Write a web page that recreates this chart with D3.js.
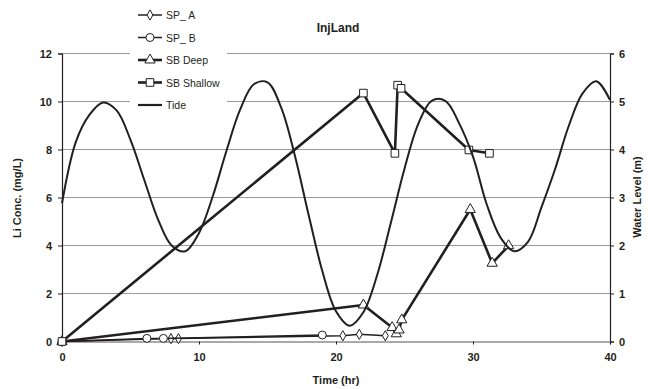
<!DOCTYPE html>
<html>
<head>
<meta charset="utf-8">
<script src="https://cdn.jsdelivr.net/npm/d3@7"></script>
<style>
  body { margin: 0; background: #fff; }
  svg { font-family: "Liberation Sans", Arial, sans-serif; }
</style>
</head>
<body>
<script>
// ---------------- data ----------------
const spATime = [0, 7.95, 8.5, 20.5, 21.7, 23.6]
const spAConc = [0, 0.12, 0.12, 0.24, 0.3, 0.24]

const spBTime = [0, 6.2, 7.4, 19.0]
const spBConc = [0, 0.13, 0.13, 0.27]

const deepTime = [0, 22.0, 24.1, 24.4, 24.6, 24.8, 29.8, 31.4, 32.6]
const deepConc = [0, 1.52, 0.58, 0.32, 0.48, 0.9, 5.5, 3.26, 3.99]

const shallowTime = [0, 22.0, 24.3, 24.5, 24.75, 29.7, 31.2]
const shallowConc = [0, 10.35, 7.84, 10.68, 10.55, 7.98, 7.84]

const tideTime = [0, 1, 2, 3, 4, 5, 6, 7, 8, 9, 10, 11, 12, 13, 14, 15, 16, 17, 18, 19, 20,
    21, 22, 23, 24, 25, 26, 27, 28, 29, 30, 31, 32, 33, 34, 35, 36, 37, 38, 39, 40]
const tideLevel = [2.88, 4.15, 4.72, 4.98, 4.81, 4.2, 3.37, 2.55, 2.0, 1.88, 2.26, 3.02, 3.97, 4.83,
    5.36, 5.4, 4.87, 3.87, 2.64, 1.47, 0.63, 0.33, 0.61, 1.38, 2.47, 3.6, 4.53, 5.02, 5.01,
    4.54, 3.85, 2.86, 2.17, 1.88, 2.07, 2.8, 3.6, 4.5, 5.17, 5.42, 5.03]

const xTicks = [0, 10, 20, 30, 40]
const yTicks = [0, 2, 4, 6, 8, 10, 12]
const y2Ticks = [0, 1, 2, 3, 4, 5, 6]

const seriesNames = ['SP_ A', 'SP_ B', 'SB Deep', 'SB Shallow', 'Tide']

// ---------------- layout ----------------
const W = 648, H = 389
const plot = { left: 62, right: 610, top: 53.5, bottom: 341.5 }
const ink = '#231f20'

const svg = d3.select('body').append('svg')
    .attr('width', W)
    .attr('height', H)

const x = d3.scaleLinear().domain([0, 40]).range([plot.left, plot.right])
const y = d3.scaleLinear().domain([0, 12]).range([plot.bottom, plot.top])
const y2 = d3.scaleLinear().domain([0, 6]).range([plot.bottom, plot.top])

// gridlines
svg.append('g')
    .selectAll('line')
    .data(yTicks.filter(d => d > 0))
    .enter().append('line')
    .attr('x1', plot.left).attr('x2', plot.right)
    .attr('y1', d => y(d)).attr('y2', d => y(d))
    .attr('stroke', '#9a9a9a')
    .attr('stroke-width', 1)

// axes
const axisLeft = svg.append('g')
    .attr('transform', 'translate(' + plot.left + ',0)')
    .call(d3.axisLeft(y).tickValues(yTicks).tickSize(4).tickPadding(6))
const axisRight = svg.append('g')
    .attr('transform', 'translate(' + plot.right + ',0)')
    .call(d3.axisRight(y2).tickValues(y2Ticks).tickFormat(d3.format('d')).tickSize(4).tickPadding(5))
const axisBottom = svg.append('g')
    .attr('transform', 'translate(0,' + plot.bottom + ')')
    .call(d3.axisBottom(x).tickValues(xTicks).tickSize(3).tickPadding(9))

;[axisLeft, axisRight, axisBottom].forEach(a => {
    a.select('.domain').attr('stroke', ink).attr('stroke-width', 1.2)
    a.selectAll('.tick line').attr('stroke', ink)
    a.selectAll('.tick text')
        .attr('fill', ink)
        .style('font-size', '11px')
        .style('font-weight', 'bold')
        .style('font-family', '"Liberation Sans", Arial, sans-serif')
})
axisBottom.select('.domain').attr('stroke', '#555')

// titles
svg.append('text')
    .attr('x', 338).attr('y', 32)
    .attr('text-anchor', 'middle')
    .style('font-size', '12px').style('font-weight', 'bold')
    .attr('fill', ink)
    .text('InjLand')

svg.append('text')
    .attr('x', 336).attr('y', 384)
    .attr('text-anchor', 'middle')
    .style('font-size', '11px').style('font-weight', 'bold')
    .attr('fill', ink)
    .text('Time (hr)')

svg.append('text')
    .attr('transform', 'translate(21,198) rotate(-90)')
    .attr('text-anchor', 'middle')
    .style('font-size', '11px').style('font-weight', 'bold')
    .attr('fill', ink)
    .text('Li Conc. (mg/L)')

svg.append('text')
    .attr('transform', 'translate(641,197) rotate(-90)')
    .attr('text-anchor', 'middle')
    .style('font-size', '11px').style('font-weight', 'bold')
    .attr('fill', ink)
    .text('Water Level (m)')

// ---------------- series ----------------
function zip(ts, vs) {
    return ts.map((t, i) => ({ t: t, v: vs[i] }))
}

const shapes = {
    diamond: d3.symbol().type(d3.symbolDiamond).size(30),
    circle: d3.symbol().type(d3.symbolCircle).size(50),
    triangle: d3.symbol().type(d3.symbolTriangle).size(46),
    square: d3.symbol().type(d3.symbolSquare).size(58)
}

const series = [
    { name: seriesNames[0], data: zip(spATime, spAConc), width: 1.5, shape: 'diamond' },
    { name: seriesNames[1], data: zip(spBTime, spBConc), width: 1.5, shape: 'circle' },
    { name: seriesNames[2], data: zip(deepTime, deepConc), width: 2.6, shape: 'triangle' },
    { name: seriesNames[3], data: zip(shallowTime, shallowConc), width: 2.6, shape: 'square' }
]

const line = d3.line().x(d => x(d.t)).y(d => y(d.v))

// tide drawn on the right axis
const tideLine = d3.line()
    .x(d => x(d.t))
    .y(d => y2(d.v))
    .curve(d3.curveCatmullRom)

series.forEach(s => {
    const g = svg.append('g')
    g.append('path')
        .datum(s.data)
        .attr('d', line)
        .attr('fill', 'none')
        .attr('stroke', ink)
        .attr('stroke-width', s.width)
        .attr('stroke-linejoin', 'round')
    g.selectAll('path.mark')
        .data(s.data)
        .enter().append('path')
        .attr('class', 'mark')
        .attr('d', shapes[s.shape])
        .attr('transform', d => 'translate(' + x(d.t) + ',' + y(d.v) + ')')
        .attr('fill', '#fff')
        .attr('stroke', ink)
        .attr('stroke-width', 1)
})

svg.append('path')
    .datum(zip(tideTime, tideLevel))
    .attr('d', tideLine)
    .attr('fill', 'none')
    .attr('stroke', ink)
    .attr('stroke-width', 2)

// ---------------- legend ----------------
const legend = svg.append('g')
legend.append('rect')
    .attr('x', 130).attr('y', 0)
    .attr('width', 97).attr('height', 113)
    .attr('fill', '#fff')

const legendRows = [
    { width: 1.5, shape: 'diamond' },
    { width: 1.5, shape: 'circle' },
    { width: 2.6, shape: 'triangle' },
    { width: 2.6, shape: 'square' },
    { width: 2.2, shape: null }
]

legendRows.forEach((r, i) => {
    const ly = 15 + i * 22.5
    legend.append('line')
        .attr('x1', 138).attr('x2', 162)
        .attr('y1', ly).attr('y2', ly)
        .attr('stroke', ink)
        .attr('stroke-width', r.width)
    if (r.shape) {
        legend.append('path')
            .attr('d', shapes[r.shape])
            .attr('transform', 'translate(150,' + ly + ')')
            .attr('fill', '#fff')
            .attr('stroke', ink)
            .attr('stroke-width', 1)
    }
    legend.append('text')
        .attr('x', 166).attr('y', ly + 4)
        .style('font-size', '10.5px')
        .attr('fill', ink)
        .text(seriesNames[i])
})
</script>
</body>
</html>
